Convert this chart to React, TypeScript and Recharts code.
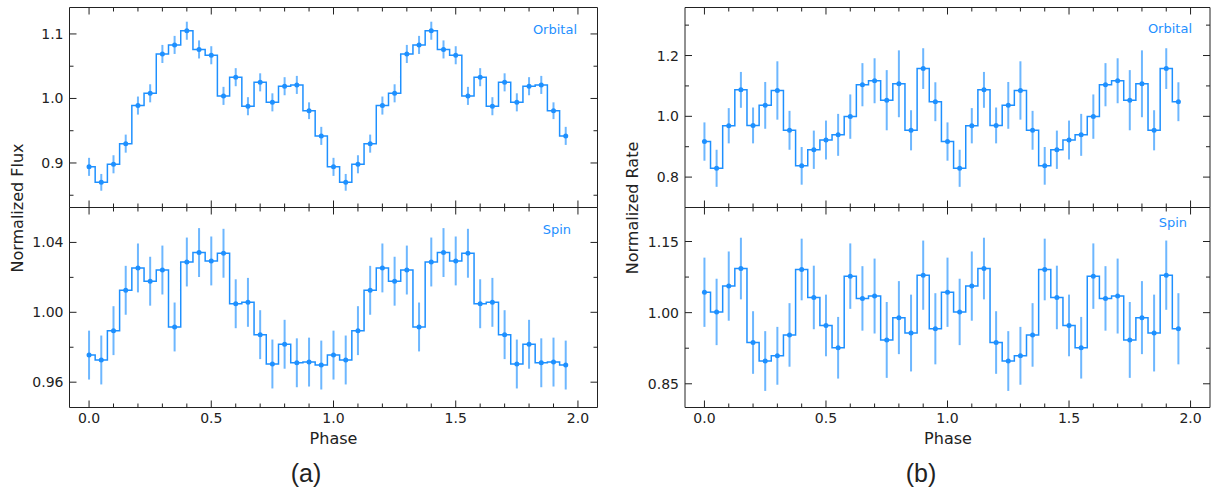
import { ErrorBar, Line, LineChart, XAxis, YAxis } from 'recharts';

const BLUE = '#1E90FF';
const INK = '#222';
const FONT = '"DejaVu Sans", sans-serif';

// phase bins, two cycles
const phase = [
  0.0, 0.05, 0.1, 0.15, 0.2, 0.25, 0.3, 0.35, 0.4, 0.45,
  0.5, 0.55, 0.6, 0.65, 0.7, 0.75, 0.8, 0.85, 0.9, 0.95,
  1.0, 1.05, 1.1, 1.15, 1.2, 1.25, 1.3, 1.35, 1.4, 1.45,
  1.5, 1.55, 1.6, 1.65, 1.7, 1.75, 1.8, 1.85, 1.9, 1.95
];

const xTicks = [0, 0.1, 0.2, 0.3, 0.4, 0.5, 0.6, 0.7, 0.8, 0.9, 1.0, 1.1, 1.2, 1.3, 1.4, 1.5, 1.6, 1.7, 1.8, 1.9, 2.0];
const xMajor = [0, 0.5, 1.0, 1.5, 2.0];
const X_DOMAIN: [number, number] = [-0.08, 2.08];

// (a) optical flux, one cycle (the figure repeats it over phase 1-2)
const orbitalFlux = [0.894, 0.870, 0.898, 0.930, 0.989, 1.008, 1.069, 1.083, 1.105, 1.076, 1.067, 1.004, 1.033, 0.988, 1.025, 0.994, 1.019, 1.021, 0.981, 0.942];
const orbitalFluxErr = [0.014, 0.013, 0.014, 0.014, 0.014, 0.014, 0.014, 0.014, 0.014, 0.014, 0.014, 0.014, 0.014, 0.014, 0.014, 0.014, 0.014, 0.014, 0.013, 0.014];
const spinFlux = [0.9755, 0.9727, 0.9895, 1.0126, 1.0254, 1.0178, 1.0242, 0.9916, 1.0288, 1.0342, 1.0294, 1.0338, 1.0049, 1.0057, 0.9872, 0.9704, 0.9817, 0.9711, 0.9715, 0.9698];
const spinFluxErr = [0.014, 0.014, 0.014, 0.014, 0.014, 0.014, 0.014, 0.014, 0.014, 0.014, 0.014, 0.014, 0.014, 0.014, 0.014, 0.014, 0.014, 0.014, 0.014, 0.014];

// (b) X-ray rate, one cycle
const orbitalRate = [0.917, 0.829, 0.969, 1.087, 0.970, 1.036, 1.085, 0.954, 0.837, 0.890, 0.922, 0.939, 0.999, 1.104, 1.117, 1.053, 1.107, 0.954, 1.157, 1.048];
const orbitalRateErr = [0.063, 0.061, 0.058, 0.059, 0.059, 0.077, 0.096, 0.064, 0.062, 0.063, 0.064, 0.069, 0.073, 0.071, 0.074, 0.099, 0.110, 0.066, 0.067, 0.064];
const spinRate = [1.043, 1.0015, 1.056, 1.093, 0.937, 0.898, 0.909, 0.953, 1.091, 1.032, 0.973, 0.926, 1.077, 1.030, 1.035, 0.9425, 0.9895, 0.957, 1.079, 0.966];
const spinRateErr = [0.073, 0.070, 0.073, 0.065, 0.066, 0.063, 0.061, 0.067, 0.065, 0.067, 0.065, 0.065, 0.069, 0.068, 0.079, 0.080, 0.077, 0.081, 0.073, 0.075];

// y ticks per panel
const fluxOrbTicks = [0.85, 0.9, 0.95, 1.0, 1.05, 1.1];
const fluxOrbMajor = [0.9, 1.0, 1.1];
const fluxSpinTicks = [0.96, 0.98, 1.0, 1.02, 1.04];
const fluxSpinMajor = [0.96, 1.0, 1.04];
const rateOrbTicks = [0.8, 0.9, 1.0, 1.1, 1.2, 1.3];
const rateOrbMajor = [0.8, 1.0, 1.2];
const rateSpinTicks = [0.85, 0.925, 1.0, 1.075, 1.15];
const rateSpinMajor = [0.85, 1.0, 1.15];

const twoCycles = (v: number[]) => [...v, ...v];

const isMajor = (v: number, majors: number[]) => majors.some((m) => Math.abs(m - v) < 1e-6);

type Side = 'bottom' | 'top' | 'left' | 'right';

function makeTick(side: Side, majors: number[], labels: boolean, digits: number) {
  return (props: any) => {
    const { x, y, payload } = props;
    const major = isMajor(payload.value, majors);
    const len = major ? 7 : 4;
    let line;
    if (side === 'bottom') line = <line x1={x} y1={y} x2={x} y2={y - len} />;
    else if (side === 'top') line = <line x1={x} y1={y} x2={x} y2={y + len} />;
    else if (side === 'left') line = <line x1={x} y1={y} x2={x + len} y2={y} />;
    else line = <line x1={x} y1={y} x2={x - len} y2={y} />;
    let label = null;
    if (labels && major) {
      const text = payload.value.toFixed(digits);
      label =
        side === 'bottom' ? (
          <text x={x} y={y + 15.5} textAnchor="middle" fontSize={14} fontFamily={FONT} fill={INK}>
            {text}
          </text>
        ) : (
          <text x={x - 6} y={y + 5} textAnchor="end" fontSize={14} fontFamily={FONT} fill={INK}>
            {text}
          </text>
        );
    }
    return (
      <g stroke={INK} strokeWidth={1}>
        {line}
        {label && <g stroke="none">{label}</g>}
      </g>
    );
  };
}

interface PanelProps {
  left: number;
  top: number;
  width: number;
  height: number;
  margin: { top: number; right: number; bottom: number; left: number };
  values: number[];
  errors: number[];
  yDomain: [number, number];
  yTicks: number[];
  yMajor: number[];
  yDigits: number;
  xLabels: boolean;
}

// axes are 1px thick (recharts skips 0-sized axes), margins below account for that
function Panel(p: PanelProps) {
  const vals = twoCycles(p.values);
  const errs = twoCycles(p.errors);
  const data = phase.map((ph, i) => ({ phase: ph, value: vals[i], err: errs[i] }));
  return (
    <div style={{ position: 'absolute', left: p.left, top: p.top }}>
      <LineChart width={p.width} height={p.height} data={data} margin={p.margin}>
        <XAxis
          xAxisId="b"
          dataKey="phase"
          type="number"
          orientation="bottom"
          domain={X_DOMAIN}
          allowDataOverflow
          ticks={xTicks}
          interval={0}
          height={1}
          tickSize={0}
          tickMargin={0}
          tickLine={false}
          axisLine={{ stroke: INK }}
          tick={makeTick('bottom', xMajor, p.xLabels, 1)}
        />
        <XAxis
          xAxisId="t"
          dataKey="phase"
          type="number"
          orientation="top"
          domain={X_DOMAIN}
          allowDataOverflow
          ticks={xTicks}
          interval={0}
          height={1}
          tickSize={0}
          tickMargin={0}
          tickLine={false}
          axisLine={{ stroke: INK }}
          tick={makeTick('top', xMajor, false, 1)}
        />
        <YAxis
          yAxisId="l"
          type="number"
          orientation="left"
          domain={p.yDomain}
          allowDataOverflow
          ticks={p.yTicks}
          interval={0}
          width={1}
          tickSize={0}
          tickMargin={0}
          tickLine={false}
          axisLine={{ stroke: INK }}
          tick={makeTick('left', p.yMajor, true, p.yDigits)}
        />
        <YAxis
          yAxisId="r"
          type="number"
          orientation="right"
          domain={p.yDomain}
          allowDataOverflow
          ticks={p.yTicks}
          interval={0}
          width={1}
          tickSize={0}
          tickMargin={0}
          tickLine={false}
          axisLine={{ stroke: INK }}
          tick={makeTick('right', p.yMajor, false, p.yDigits)}
        />
        <Line
          xAxisId="b"
          yAxisId="l"
          dataKey="value"
          type="step"
          stroke={BLUE}
          strokeWidth={1.5}
          dot={{ r: 2.5, fill: BLUE, stroke: BLUE, strokeWidth: 0 }}
          activeDot={false}
          isAnimationActive={false}
        >
          <ErrorBar dataKey="err" direction="y" width={0} stroke={BLUE} strokeOpacity={0.65} strokeWidth={2} />
        </Line>
      </LineChart>
    </div>
  );
}

const LEFT_COL = { left: 0, width: 615, ml: 68.5, mr: 16.5 };
const RIGHT_COL = { left: 610, width: 606, ml: 74, mr: 5 };

export default function App() {
  const topMargin = (c: typeof LEFT_COL) => ({ top: 6.5, bottom: 6.5, left: c.ml, right: c.mr });
  const botMargin = (c: typeof LEFT_COL) => ({ top: 6.5, bottom: 26.5, left: c.ml, right: c.mr });
  return (
    <div style={{ position: 'absolute', left: 0, top: 0, width: 1216, height: 491, background: '#fff' }}>
      <Panel left={LEFT_COL.left} top={0} width={LEFT_COL.width} height={215} margin={topMargin(LEFT_COL)}
        values={orbitalFlux} errors={orbitalFluxErr} yDomain={[0.831, 1.141]} yTicks={fluxOrbTicks} yMajor={fluxOrbMajor} yDigits={1} xLabels={false} />
      <Panel left={LEFT_COL.left} top={200} width={LEFT_COL.width} height={235} margin={botMargin(LEFT_COL)}
        values={spinFlux} errors={spinFluxErr} yDomain={[0.9455, 1.06]} yTicks={fluxSpinTicks} yMajor={fluxSpinMajor} yDigits={2} xLabels />
      <Panel left={RIGHT_COL.left} top={0} width={RIGHT_COL.width} height={215} margin={topMargin(RIGHT_COL)}
        values={orbitalRate} errors={orbitalRateErr} yDomain={[0.70, 1.358]} yTicks={rateOrbTicks} yMajor={rateOrbMajor} yDigits={1} xLabels={false} />
      <Panel left={RIGHT_COL.left} top={200} width={RIGHT_COL.width} height={235} margin={botMargin(RIGHT_COL)}
        values={spinRate} errors={spinRateErr} yDomain={[0.80, 1.2217]} yTicks={rateSpinTicks} yMajor={rateSpinMajor} yDigits={2} xLabels />

      <svg width={1216} height={491} style={{ position: 'absolute', left: 0, top: 0, pointerEvents: 'none' }} fontFamily={FONT}>
        <text x={577} y={34} textAnchor="end" fontSize={13} fill={BLUE}>Orbital</text>
        <text x={571} y={233.5} textAnchor="end" fontSize={13} fill={BLUE}>Spin</text>
        <text x={1192} y={32.5} textAnchor="end" fontSize={13} fill={BLUE}>Orbital</text>
        <text x={1187} y={226.5} textAnchor="end" fontSize={13} fill={BLUE}>Spin</text>

        <text transform="translate(17,208) rotate(-90)" textAnchor="middle" dominantBaseline="central" fontSize={16} fill={INK}>Normalized Flux</text>
        <text transform="translate(632.5,208) rotate(-90)" textAnchor="middle" dominantBaseline="central" fontSize={16} fill={INK}>Normalized Rate</text>

        <text x={333.5} y={444} textAnchor="middle" fontSize={16} fill={INK}>Phase</text>
        <text x={948} y={444} textAnchor="middle" fontSize={16} fill={INK}>Phase</text>

        <text x={306} y={482} textAnchor="middle" fontSize={25} fontFamily='"Liberation Sans", Arial, sans-serif' fill={INK}>(a)</text>
        <text x={921} y={482} textAnchor="middle" fontSize={25} fontFamily='"Liberation Sans", Arial, sans-serif' fill={INK}>(b)</text>
      </svg>
    </div>
  );
}
